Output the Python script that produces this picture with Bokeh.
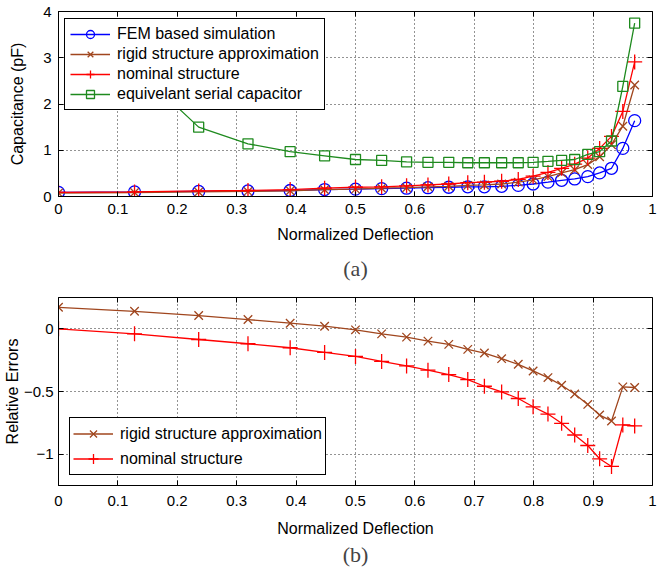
from bokeh.plotting import figure
from bokeh.models import LinearAxis, FixedTicker, Title
from bokeh.layouts import column
from bokeh.embed import file_html
from bokeh.resources import INLINE

# ---------------- data ----------------
deflection = [0.0, 0.128, 0.236, 0.319, 0.390, 0.448, 0.500, 0.544, 0.586, 0.622,
              0.657, 0.689, 0.717, 0.746, 0.774, 0.799, 0.824, 0.847, 0.869, 0.891,
              0.911, 0.931, 0.950, 0.970]

fem_sim = [0.09, 0.10, 0.11, 0.12, 0.13, 0.15, 0.16, 0.17, 0.18, 0.19,
           0.20, 0.21, 0.21, 0.22, 0.24, 0.27, 0.31, 0.35, 0.38, 0.43,
           0.51, 0.61, 1.04, 1.64]
rigid_cap = [0.075, 0.086, 0.098, 0.11, 0.124, 0.147, 0.16, 0.18, 0.19, 0.21,
             0.22, 0.24, 0.25, 0.27, 0.31, 0.36, 0.43, 0.51, 0.58, 0.69,
             0.86, 1.12, 1.52, 2.41]
nominal_cap = [0.09, 0.10, 0.12, 0.13, 0.15, 0.18, 0.20, 0.21, 0.23, 0.25,
               0.27, 0.30, 0.31, 0.33, 0.37, 0.44, 0.52, 0.61, 0.70, 0.83,
               1.04, 1.30, 1.84, 2.91]
serial_cap = [float("nan"), 2.80, 1.50, 1.14, 0.97, 0.88, 0.80, 0.78, 0.75, 0.74,
              0.74, 0.73, 0.73, 0.73, 0.73, 0.74, 0.76, 0.78, 0.80, 0.91,
              0.97, 1.20, 2.38, 3.75]

err_rigid = [0.172, 0.14, 0.106, 0.074, 0.045, 0.021, -0.008, -0.04, -0.066, -0.098,
             -0.124, -0.164, -0.193, -0.238, -0.283, -0.336, -0.389, -0.45, -0.52, -0.603,
             -0.688, -0.735, -0.463, -0.468]
err_nominal = [0.0, -0.04, -0.085, -0.119, -0.151, -0.188, -0.22, -0.26, -0.296, -0.33,
               -0.365, -0.405, -0.458, -0.503, -0.556, -0.622, -0.68, -0.754, -0.847, -0.931,
               -1.037, -1.098, -0.767, -0.775]

x_ticks = [0, 0.1, 0.2, 0.3, 0.4, 0.5, 0.6, 0.7, 0.8, 0.9, 1]
x_tick_labels = {0: "0", 1: "1"}
y1_ticks = [0, 1, 2, 3, 4]
y2_ticks = [-1, -0.5, 0]
y2_tick_labels = {-1: "\u22121", -0.5: "\u22120.5", 0: "0"}

FONT = "Liberation Sans"
BLUE = "#0000FF"
BROWN = "#A0461E"
RED = "#FF0000"
GREEN = "#1E8A1E"


def base_fig(height, yr, min_top, min_bottom):
    p = figure(width=658, height=height, x_range=(0, 1), y_range=yr,
               output_backend="svg", toolbar_location=None, title=None,
               min_border_left=50, min_border_right=6,
               min_border_top=min_top, min_border_bottom=min_bottom)
    p.background_fill_color = "white"
    p.border_fill_color = "white"
    p.outline_line_color = "black"
    p.outline_line_width = 1
    p.outline_line_alpha = 1
    for g in (p.xgrid[0], p.ygrid[0]):
        g.grid_line_color = "black"
        g.grid_line_dash = "1 3"
        g.grid_line_width = 1
        g.grid_line_alpha = 0.85
    for ax in (p.xaxis[0], p.yaxis[0]):
        ax.axis_line_color = "black"
        ax.major_tick_in = 5
        ax.major_tick_out = 0
        ax.minor_tick_in = 0
        ax.minor_tick_out = 0
        ax.major_label_text_font = FONT
        ax.major_label_text_font_size = "15px"
        ax.major_label_text_color = "black"
        ax.axis_label_text_font = FONT
        ax.axis_label_text_font_size = "16px"
        ax.axis_label_text_font_style = "normal"
        ax.axis_label_text_color = "black"
    p.xaxis[0].ticker = FixedTicker(ticks=x_ticks)
    p.xaxis[0].major_label_overrides = x_tick_labels
    p.xaxis[0].axis_label = "Normalized Deflection"
    return p


def add_box_ticks(p, yticks):
    # tick marks only on the top and right edges of the box
    common = dict(major_label_text_font_size="1px", major_label_text_color=None,
                  major_tick_in=5, major_tick_out=0, minor_tick_in=0, minor_tick_out=0,
                  axis_line_color=None, major_label_standoff=0)
    top = LinearAxis(ticker=FixedTicker(ticks=x_ticks), **common)
    right = LinearAxis(ticker=FixedTicker(ticks=yticks), **common)
    p.add_layout(top, "above")
    p.add_layout(right, "right")


def style_legend(lg, loc, pad, row_h):
    lg.location = loc
    lg.margin = 0
    lg.padding = pad
    lg.spacing = 0
    lg.glyph_width = 40
    lg.glyph_height = row_h
    lg.label_height = row_h
    lg.label_standoff = 7
    lg.label_text_font = FONT
    lg.label_text_font_size = "16px"
    lg.label_text_color = "black"
    lg.border_line_color = "black"
    lg.border_line_width = 1
    lg.border_line_alpha = 1
    lg.background_fill_color = "white"
    lg.background_fill_alpha = 1


lw = 1.3

# ---------------- figure (a) ----------------
p1 = base_fig(288, (0, 4), 11, 92)
p1.yaxis[0].ticker = FixedTicker(ticks=y1_ticks)
p1.yaxis[0].axis_label = "Capacitance (pF)"
p1.yaxis[0].major_label_standoff = 7
p1.yaxis[0].axis_label_standoff = 14
p1.xaxis[0].major_label_standoff = 7
p1.xaxis[0].axis_label_standoff = 9
add_box_ticks(p1, y1_ticks)

p1.line(deflection, fem_sim, color=BLUE, line_width=lw, legend_label="FEM based simulation")
p1.scatter(deflection, fem_sim, marker="circle", size=12, line_color=BLUE, fill_color=None,
           line_width=lw, legend_label="FEM based simulation")
p1.line(deflection, rigid_cap, color=BROWN, line_width=lw, legend_label="rigid structure approximation")
p1.scatter(deflection, rigid_cap, marker="x", size=12, line_color=BROWN,
           line_width=lw, legend_label="rigid structure approximation")
p1.line(deflection, nominal_cap, color=RED, line_width=lw, legend_label="nominal structure")
p1.scatter(deflection, nominal_cap, marker="cross", size=15, line_color=RED,
           line_width=lw, legend_label="nominal structure")
p1.line(deflection, serial_cap, color=GREEN, line_width=lw, legend_label="equivelant serial capacitor")
p1.scatter(deflection, serial_cap, marker="square", size=10, line_color=GREEN, fill_color=None,
           line_width=lw, legend_label="equivelant serial capacitor")

style_legend(p1.legend[0], (6, 86), 5, 20)

p1.add_layout(Title(text="(a)", align="center", text_font="Liberation Serif",
                    text_font_size="22px", text_font_style="normal", standoff=16), "below")

# ---------------- figure (b) ----------------
p2 = base_fig(285, (-1.25, 0.25), 9, 88)
p2.yaxis[0].ticker = FixedTicker(ticks=y2_ticks)
p2.yaxis[0].major_label_overrides = y2_tick_labels
p2.yaxis[0].axis_label = "Relative Errors"
p2.yaxis[0].major_label_standoff = 5
p2.yaxis[0].axis_label_standoff = 0
p2.xaxis[0].major_label_standoff = 10
p2.xaxis[0].axis_label_standoff = 11
add_box_ticks(p2, y2_ticks)

p2.line(deflection, err_rigid, color=BROWN, line_width=lw, legend_label="rigid structure approximation")
p2.scatter(deflection, err_rigid, marker="x", size=12, line_color=BROWN,
           line_width=lw, legend_label="rigid structure approximation")
p2.line(deflection, err_nominal, color=RED, line_width=lw, legend_label="nominal structure")
p2.scatter(deflection, err_nominal, marker="cross", size=15, line_color=RED,
           line_width=lw, legend_label="nominal structure")

style_legend(p2.legend[0], (11, 10), 3, 25)

p2.add_layout(Title(text="(b)", align="center", text_font="Liberation Serif",
                    text_font_size="22px", text_font_style="normal", standoff=1), "below")

layout = column(p1, p2, spacing=0)
open("out.html", "w").write(file_html(layout, INLINE))
